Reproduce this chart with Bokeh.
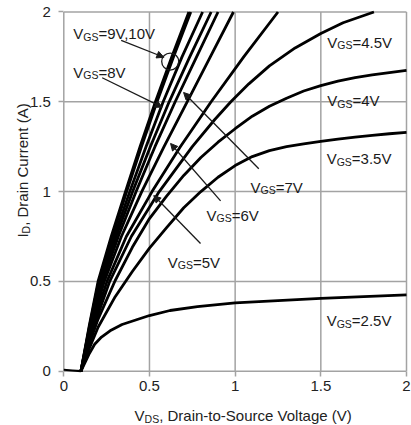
import math
from bokeh.plotting import figure
from bokeh.models import ColumnDataSource, FixedTicker, Arrow, NormalHead, Range1d
from bokeh.core.properties import value
from bokeh.embed import file_html
from bokeh.resources import INLINE

FONT = "Liberation Sans"

# ---- data: drain current (A) vs drain-source voltage (V) per gate drive ----
# steep (ohmic) family, given as V_DS read at fixed I_D levels
id_levels = [0.0, 0.25, 0.5, 0.75, 1.0, 1.25, 1.5, 1.75, 2.0]
vds_10v = [0.10, 0.148, 0.200, 0.277, 0.360, 0.445, 0.535, 0.630, 0.730]
vds_9v = [0.10, 0.150, 0.204, 0.283, 0.367, 0.453, 0.544, 0.640, 0.741]
vds_8v = [0.10, 0.152, 0.210, 0.294, 0.385, 0.480, 0.580, 0.690, 0.810]
vds_unlabeled = [0.10, 0.155, 0.218, 0.305, 0.402, 0.505, 0.615, 0.735, 0.860]
vds_7v = [0.10, 0.158, 0.226, 0.318, 0.422, 0.532, 0.650, 0.775, 0.900]
vds_6v = [0.10, 0.162, 0.236, 0.336, 0.455, 0.585, 0.720, 0.855, 0.990]
vds_5v = [0.10, 0.168, 0.252, 0.365, 0.515, 0.680, 0.860, 1.050, 1.250]

# 4.5 V curve bends over near the top of the range
id_4v5 = [0.0, 0.25, 0.5, 0.75, 1.0, 1.25, 1.4, 1.5, 1.6, 1.7, 1.8, 1.88, 1.94, 2.0]
vds_4v5 = [0.10, 0.175, 0.268, 0.394, 0.557, 0.750, 0.880, 0.975, 1.08, 1.20, 1.35, 1.50, 1.63, 1.81]

# saturating curves, given as I_D read at fixed V_DS
vds_grid = [0.10, 0.15, 0.2, 0.3, 0.4, 0.5, 0.6, 0.7, 0.8, 0.9, 1.0,
            1.1, 1.2, 1.3, 1.4, 1.5, 1.6, 1.7, 1.8, 1.9, 2.0]
id_4v = [0.0, 0.155, 0.29, 0.505, 0.69, 0.85, 0.975, 1.09, 1.19, 1.275, 1.35,
         1.42, 1.475, 1.52, 1.56, 1.59, 1.615, 1.635, 1.65, 1.663, 1.675]
id_3v5 = [0.0, 0.13, 0.245, 0.415, 0.555, 0.685, 0.80, 0.91, 1.00, 1.08, 1.145,
          1.195, 1.228, 1.25, 1.266, 1.28, 1.292, 1.303, 1.313, 1.322, 1.33]

vds_2v5 = [0.10, 0.15, 0.18, 0.22, 0.27, 0.34, 0.42, 0.50, 0.62, 0.78, 1.0, 1.25, 1.5, 1.75, 2.0]
id_2v5 = [0.0, 0.10, 0.15, 0.19, 0.225, 0.26, 0.285, 0.31, 0.338, 0.36, 0.38, 0.393, 0.405, 0.415, 0.425]

# common sub-threshold lead-in below 0.1 V
vds_lead = [0.0, 0.05, 0.10]
id_lead = [0.008, 0.004, 0.0]

# curve labels (gate-source voltages) and axis ticks
label_values = ["=9V,10V", "=8V", "=7V", "=6V", "=5V", "=4.5V", "=4V", "=3.5V", "=2.5V"]
tick_values = [0, 0.5, 1, 1.5, 2]
tick_labels = ["0", "0.5", "1", "1.5", "2"]

# ---- figure: the frame spans the whole canvas, axes sit on the 0 lines ----
X0, X1 = -0.3694, 2.0292
Y0, Y1 = -0.3023, 2.064
W, H = 411, 425
PX_X = W / (X1 - X0)
PX_Y = H / (Y1 - Y0)

GRID = "#a3a3a3"
p = figure(width=W, height=H, output_backend="svg", toolbar_location=None,
           x_range=Range1d(X0, X1), y_range=Range1d(Y0, Y1), min_border=0)
p.background_fill_color = "white"
p.border_fill_color = "white"
p.outline_line_color = None
p.xgrid.visible = False
p.ygrid.visible = False

lo, hi = tick_values[0], tick_values[-1]
for ax in (p.xaxis[0], p.yaxis[0]):
    ax.fixed_location = 0
    ax.bounds = (lo, hi)
    ax.ticker = FixedTicker(ticks=tick_values)
    ax.major_label_overrides = {v: t for v, t in zip(tick_values, tick_labels)}
    ax.axis_line_color = None
    ax.major_tick_line_color = GRID
    ax.major_tick_line_width = 1.5
    ax.major_tick_out = 5
    ax.major_tick_in = 0
    ax.minor_tick_line_color = None
    ax.major_label_text_font = FONT
    ax.major_label_text_font_size = "15px"
    ax.major_label_text_color = "#222222"
p.xaxis.major_label_standoff = 5
p.yaxis.major_label_standoff = 8

# grid lines (including the plot-area border) at every tick
p.segment(x0=tick_values, y0=[lo] * len(tick_values), x1=tick_values, y1=[hi] * len(tick_values),
          line_color=GRID, line_width=1.5)
p.segment(x0=[lo] * len(tick_values), y0=tick_values, x1=[hi] * len(tick_values), y1=tick_values,
          line_color=GRID, line_width=1.5)

# ---- curves ----
LW = 2.8
p.line(vds_lead, id_lead, line_color="black", line_width=2.2)
for v in (vds_10v, vds_9v, vds_8v, vds_unlabeled, vds_7v, vds_6v, vds_5v):
    p.line(v, id_levels, line_color="black", line_width=LW, line_join="round")
p.line(vds_4v5, id_4v5, line_color="black", line_width=LW, line_join="round")
p.line(vds_grid, id_4v, line_color="black", line_width=LW, line_join="round")
p.line(vds_grid, id_3v5, line_color="black", line_width=LW, line_join="round")
p.line(vds_2v5, id_2v5, line_color="black", line_width=LW, line_join="round")

# ---- curve labels: V, subscript GS, then the value ----
lab_x = [0.055, 0.055, 1.090, 0.833, 0.607, 1.538, 1.538, 1.534, 1.534]
lab_y = [1.878, 1.665, 1.024, 0.867, 0.607, 1.832, 1.507, 1.183, 0.282]
w_v = 0.667 * 15
w_gs = (0.778 + 0.667) * 10.5
src = ColumnDataSource(dict(
    x=lab_x, y=lab_y,
    xs=[x + w_v / PX_X for x in lab_x],
    ys=[y - 3.0 / PX_Y for y in lab_y],
    xr=[x + (w_v + w_gs) / PX_X for x in lab_x],
    v=["V"] * len(lab_x), gs=["GS"] * len(lab_x), rest=label_values))
common = dict(text_font=value(FONT), text_color="#1a1a1a", text_baseline="alphabetic", text_align="left")
p.text("x", "y", text="v", source=src, text_font_size="15px", **common)
p.text("xs", "ys", text="gs", source=src, text_font_size="10.5px", **common)
p.text("xr", "y", text="rest", source=src, text_font_size="15px", **common)

arrows = [
    (0.335, 1.842, 0.584, 1.748),
    (0.224, 1.634, 0.574, 1.470),
    (1.138, 1.127, 0.699, 1.552),
    (0.915, 0.948, 0.623, 1.268),
    (0.798, 0.711, 0.525, 0.978),
]
for xs, ys, xe, ye in arrows:
    p.add_layout(Arrow(end=NormalHead(size=7, fill_color="#1a1a1a", line_color="#1a1a1a", line_width=1),
                       x_start=xs, y_start=ys, x_end=xe, y_end=ye,
                       line_color="#1a1a1a", line_width=1.3))

# ring marking where the 9 V and 10 V curves coincide
p.scatter([0.621], [1.724], marker="circle", size=17, fill_color=None,
          line_color="#1a1a1a", line_width=1.3)

# ---- axis titles with subscripts ----
tcommon = dict(text_font=value(FONT), text_color="#222222", text_baseline="alphabetic", text_align="left")

xl_x, xl_y = 0.413, -0.2467
w_ds = (0.722 + 0.667) * 10.5
p.text([xl_x], [xl_y], text=["V"], text_font_size="15px", **tcommon)
p.text([xl_x + w_v / PX_X], [xl_y - 3.0 / PX_Y], text=["DS"], text_font_size="10.5px", **tcommon)
p.text([xl_x + (w_v + w_ds) / PX_X], [xl_y], text=[", Drain-to-Source Voltage (V)"],
       text_font_size="15px", **tcommon)

yl_x, yl_y = -0.241, 0.744
w_i = 0.278 * 15
w_d = 0.722 * 10.5
up = math.pi / 2
p.text([yl_x], [yl_y], text=["I"], angle=up, text_font_size="15px", **tcommon)
p.text([yl_x + 3.0 / PX_X], [yl_y + w_i / PX_Y], text=["D"], angle=up, text_font_size="10.5px", **tcommon)
p.text([yl_x], [yl_y + (w_i + w_d) / PX_Y], text=[", Drain Current (A)"], angle=up,
       text_font_size="15px", **tcommon)

open("out.html", "w").write(file_html(p, INLINE))
